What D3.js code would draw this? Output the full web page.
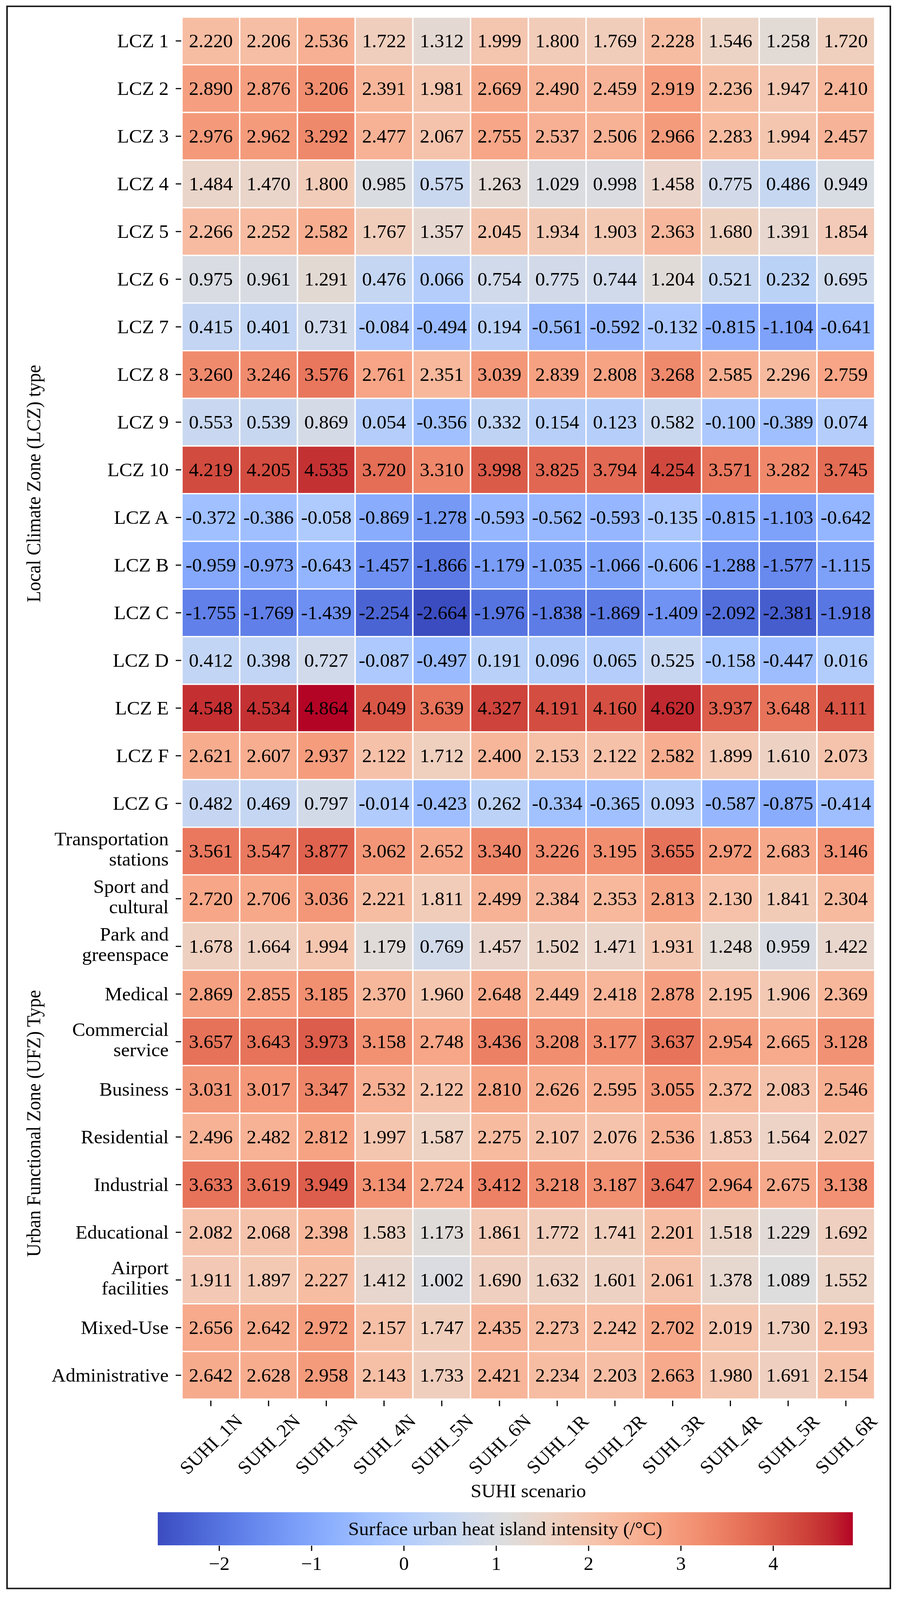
<!DOCTYPE html>
<html>
<head>
<meta charset="utf-8">
<script src="https://cdn.jsdelivr.net/npm/d3@7"></script>
<style>
  html, body { margin: 0; padding: 0; background: #fff; overflow: hidden; }
  svg { display: block; }
  text { font-family: "Liberation Serif", "Times New Roman", serif; fill: #000; }
</style>
</head>
<body>
<script>
// ---------------- DATA ----------------
const scenarios = ["SUHI_1N","SUHI_2N","SUHI_3N","SUHI_4N","SUHI_5N","SUHI_6N",
                   "SUHI_1R","SUHI_2R","SUHI_3R","SUHI_4R","SUHI_5R","SUHI_6R"];

const lczLabels = ["LCZ 1","LCZ 2","LCZ 3","LCZ 4","LCZ 5","LCZ 6","LCZ 7","LCZ 8","LCZ 9","LCZ 10",
                   "LCZ A","LCZ B","LCZ C","LCZ D","LCZ E","LCZ F","LCZ G"];

const lczValues = [
  [2.220, 2.206, 2.536, 1.722, 1.312, 1.999, 1.800, 1.769, 2.228, 1.546, 1.258, 1.720],
  [2.890, 2.876, 3.206, 2.391, 1.981, 2.669, 2.490, 2.459, 2.919, 2.236, 1.947, 2.410],
  [2.976, 2.962, 3.292, 2.477, 2.067, 2.755, 2.537, 2.506, 2.966, 2.283, 1.994, 2.457],
  [1.484, 1.470, 1.800, 0.985, 0.575, 1.263, 1.029, 0.998, 1.458, 0.775, 0.486, 0.949],
  [2.266, 2.252, 2.582, 1.767, 1.357, 2.045, 1.934, 1.903, 2.363, 1.680, 1.391, 1.854],
  [0.975, 0.961, 1.291, 0.476, 0.066, 0.754, 0.775, 0.744, 1.204, 0.521, 0.232, 0.695],
  [0.415, 0.401, 0.731, -0.084, -0.494, 0.194, -0.561, -0.592, -0.132, -0.815, -1.104, -0.641],
  [3.260, 3.246, 3.576, 2.761, 2.351, 3.039, 2.839, 2.808, 3.268, 2.585, 2.296, 2.759],
  [0.553, 0.539, 0.869, 0.054, -0.356, 0.332, 0.154, 0.123, 0.582, -0.100, -0.389, 0.074],
  [4.219, 4.205, 4.535, 3.720, 3.310, 3.998, 3.825, 3.794, 4.254, 3.571, 3.282, 3.745],
  [-0.372, -0.386, -0.058, -0.869, -1.278, -0.593, -0.562, -0.593, -0.135, -0.815, -1.103, -0.642],
  [-0.959, -0.973, -0.643, -1.457, -1.866, -1.179, -1.035, -1.066, -0.606, -1.288, -1.577, -1.115],
  [-1.755, -1.769, -1.439, -2.254, -2.664, -1.976, -1.838, -1.869, -1.409, -2.092, -2.381, -1.918],
  [0.412, 0.398, 0.727, -0.087, -0.497, 0.191, 0.096, 0.065, 0.525, -0.158, -0.447, 0.016],
  [4.548, 4.534, 4.864, 4.049, 3.639, 4.327, 4.191, 4.160, 4.620, 3.937, 3.648, 4.111],
  [2.621, 2.607, 2.937, 2.122, 1.712, 2.400, 2.153, 2.122, 2.582, 1.899, 1.610, 2.073],
  [0.482, 0.469, 0.797, -0.014, -0.423, 0.262, -0.334, -0.365, 0.093, -0.587, -0.875, -0.414]
];

const ufzLabels = ["Transportation\nstations","Sport and\ncultural","Park and\ngreenspace","Medical",
                   "Commercial\nservice","Business","Residential","Industrial","Educational",
                   "Airport\nfacilities","Mixed-Use","Administrative"];

const ufzValues = [
  [3.561, 3.547, 3.877, 3.062, 2.652, 3.340, 3.226, 3.195, 3.655, 2.972, 2.683, 3.146],
  [2.720, 2.706, 3.036, 2.221, 1.811, 2.499, 2.384, 2.353, 2.813, 2.130, 1.841, 2.304],
  [1.678, 1.664, 1.994, 1.179, 0.769, 1.457, 1.502, 1.471, 1.931, 1.248, 0.959, 1.422],
  [2.869, 2.855, 3.185, 2.370, 1.960, 2.648, 2.449, 2.418, 2.878, 2.195, 1.906, 2.369],
  [3.657, 3.643, 3.973, 3.158, 2.748, 3.436, 3.208, 3.177, 3.637, 2.954, 2.665, 3.128],
  [3.031, 3.017, 3.347, 2.532, 2.122, 2.810, 2.626, 2.595, 3.055, 2.372, 2.083, 2.546],
  [2.496, 2.482, 2.812, 1.997, 1.587, 2.275, 2.107, 2.076, 2.536, 1.853, 1.564, 2.027],
  [3.633, 3.619, 3.949, 3.134, 2.724, 3.412, 3.218, 3.187, 3.647, 2.964, 2.675, 3.138],
  [2.082, 2.068, 2.398, 1.583, 1.173, 1.861, 1.772, 1.741, 2.201, 1.518, 1.229, 1.692],
  [1.911, 1.897, 2.227, 1.412, 1.002, 1.690, 1.632, 1.601, 2.061, 1.378, 1.089, 1.552],
  [2.656, 2.642, 2.972, 2.157, 1.747, 2.435, 2.273, 2.242, 2.702, 2.019, 1.730, 2.193],
  [2.642, 2.628, 2.958, 2.143, 1.733, 2.421, 2.234, 2.203, 2.663, 1.980, 1.691, 2.154]
];

const cbarTicks = [-2, -1, 0, 1, 2, 3, 4];

const xTitle = "SUHI scenario";
const lczTitle = "Local Climate Zone (LCZ) type";
const ufzTitle = "Urban Functional Zone (UFZ) Type";
const cbarTitle = "Surface urban heat island intensity (/°C)";

// matplotlib "coolwarm" (Moreland) colour table, 33 samples
const coolwarm = [
  [59,76,192],[68,90,204],[77,104,215],[87,117,225],[98,130,234],[108,142,241],[119,154,247],
  [130,165,251],[141,176,254],[152,185,255],[163,194,255],[174,201,253],[184,208,249],
  [194,213,244],[204,217,238],[213,219,230],[221,221,221],[229,216,209],[236,211,197],
  [241,204,185],[245,196,173],[247,187,160],[247,177,148],[247,166,135],[244,154,123],
  [241,141,111],[236,127,99],[229,112,88],[222,96,77],[213,80,66],[203,62,56],[192,40,47],[180,4,38]
].map(c => d3.rgb(c[0], c[1], c[2]).formatHex());

// ---------------- LAYOUT ----------------
const W = 2315, H = 4301;
const FS = 50;

const rowLabels = lczLabels.concat(ufzLabels);
const allValues = lczValues.concat(ufzValues);
const cells = [];
allValues.forEach((row, r) => row.forEach((v, c) => cells.push({row: rowLabels[r], col: scenarios[c], v})));

const [vmin, vmax] = d3.extent(cells, d => d.v);

const x = d3.scaleBand().domain(scenarios).range([466, 2240]);
const y = d3.scaleBand().domain(rowLabels).range([46, 3761]);

const t = d3.scaleLinear().domain([vmin, vmax]).range([0, 1]);
const cmap = d3.scaleLinear()
  .domain(coolwarm.map((_, i) => i / (coolwarm.length - 1)))
  .range(coolwarm)
  .interpolate(d3.interpolateRgb)
  .clamp(true);
const color = v => cmap(t(v));

// fit the whole drawing into the visible viewport
const vw = document.documentElement.clientWidth || window.innerWidth || W;
const vh = window.innerHeight || document.documentElement.clientHeight || H;

const svg = d3.select("body").append("svg")
  .attr("width", vw).attr("height", vh)
  .attr("viewBox", `0 0 ${W} ${H}`)
  .attr("preserveAspectRatio", "none");

svg.append("rect").attr("x", 0).attr("y", 0).attr("width", W).attr("height", H).attr("fill", "#fff");

// outer frame
svg.append("rect")
  .attr("x", 18).attr("y", 17).attr("width", 2262).attr("height", 4253)
  .attr("fill", "none").attr("stroke", "#1a1a1a").attr("stroke-width", 4);

// ---------------- HEATMAP ----------------
const g = svg.append("g");
g.selectAll("rect.cell").data(cells).join("rect")
  .attr("class", "cell")
  .attr("x", d => x(d.col)).attr("y", d => y(d.row))
  .attr("width", x.bandwidth()).attr("height", y.bandwidth())
  .attr("fill", d => color(d.v))
  .attr("stroke", "#fff").attr("stroke-width", 3.5);

g.selectAll("text.val").data(cells).join("text")
  .attr("class", "val")
  .attr("x", d => x(d.col) + x.bandwidth() / 2)
  .attr("y", d => y(d.row) + y.bandwidth() / 2 + 17)
  .attr("text-anchor", "middle")
  .attr("font-size", FS)
  .text(d => d3.format(".3f")(d.v).replace("\u2212", "-"));

// ---------------- Y AXIS ----------------
const yAxis = svg.append("g")
  .attr("transform", "translate(464,0)")
  .call(d3.axisLeft(y).tickSize(14).tickFormat(""));
yAxis.select(".domain").remove();
yAxis.selectAll(".tick line").attr("stroke", "#000").attr("stroke-width", 3);

rowLabels.forEach(lab => {
  const cy = y(lab) + y.bandwidth() / 2;
  const lines = lab.split("\n");
  const txt = svg.append("text")
    .attr("text-anchor", "end")
    .attr("font-size", FS);
  if (lines.length === 1) {
    txt.append("tspan").attr("x", 432).attr("y", cy + 17).text(lines[0]);
  } else {
    txt.append("tspan").attr("x", 432).attr("y", cy - 15).text(lines[0]);
    txt.append("tspan").attr("x", 432).attr("y", cy + 39).text(lines[1]);
  }
});

// ---------------- X AXIS ----------------
const xAxis = svg.append("g")
  .attr("transform", "translate(0,3765)")
  .call(d3.axisBottom(x).tickSize(15).tickFormat(""));
xAxis.select(".domain").remove();
xAxis.selectAll(".tick line").attr("stroke", "#000").attr("stroke-width", 3);

svg.selectAll("text.xlab").data(scenarios).join("text")
  .attr("class", "xlab")
  .attr("transform", d => `translate(${x(d) + x.bandwidth() / 2},3882) rotate(-45)`)
  .attr("text-anchor", "middle")
  .attr("dy", "0.35em")
  .attr("font-size", FS)
  .text(d => d);

svg.append("text")
  .attr("x", (x.range()[0] + x.range()[1]) / 2).attr("y", 4025)
  .attr("text-anchor", "middle").attr("font-size", FS)
  .text(xTitle);

// axis titles (rotated)
svg.append("text")
  .attr("transform", "translate(103,1300) rotate(-90)")
  .attr("text-anchor", "middle").attr("font-size", FS)
  .text(lczTitle);
svg.append("text")
  .attr("transform", "translate(103,3020) rotate(-90)")
  .attr("text-anchor", "middle").attr("font-size", FS)
  .text(ufzTitle);

// ---------------- COLORBAR ----------------
const cb = d3.scaleLinear().domain([vmin, vmax]).range([404, 2184]);
const cbY = 4065, cbH = 89;

const defs = svg.append("defs");
const grad = defs.append("linearGradient").attr("id", "cwgrad")
  .attr("x1", "0%").attr("x2", "100%").attr("y1", "0%").attr("y2", "0%");
grad.selectAll("stop").data(coolwarm).join("stop")
  .attr("offset", (d, i) => (i / (coolwarm.length - 1) * 100) + "%")
  .attr("stop-color", d => d);

svg.append("rect")
  .attr("x", cb(vmin)).attr("y", cbY)
  .attr("width", cb(vmax) - cb(vmin)).attr("height", cbH)
  .attr("fill", "url(#cwgrad)");

const cbAxis = svg.append("g")
  .attr("transform", `translate(0,${cbY + cbH + 1})`)
  .call(d3.axisBottom(cb).tickValues(cbarTicks).tickSize(14).tickPadding(16)
        .tickFormat(d => (d < 0 ? "\u2212" + Math.abs(d) : String(d))));
cbAxis.select(".domain").remove();
cbAxis.selectAll(".tick line").attr("stroke", "#000").attr("stroke-width", 3);
cbAxis.selectAll(".tick text")
  .attr("font-size", FS)
  .attr("font-family", "Liberation Serif, Times New Roman, serif")
  .attr("fill", "#000");

svg.append("text")
  .attr("x", (cb(vmin) + cb(vmax)) / 2).attr("y", cbY + cbH / 2 + 17)
  .attr("text-anchor", "middle").attr("font-size", FS)
  .text(cbarTitle);
</script>
</body>
</html>
